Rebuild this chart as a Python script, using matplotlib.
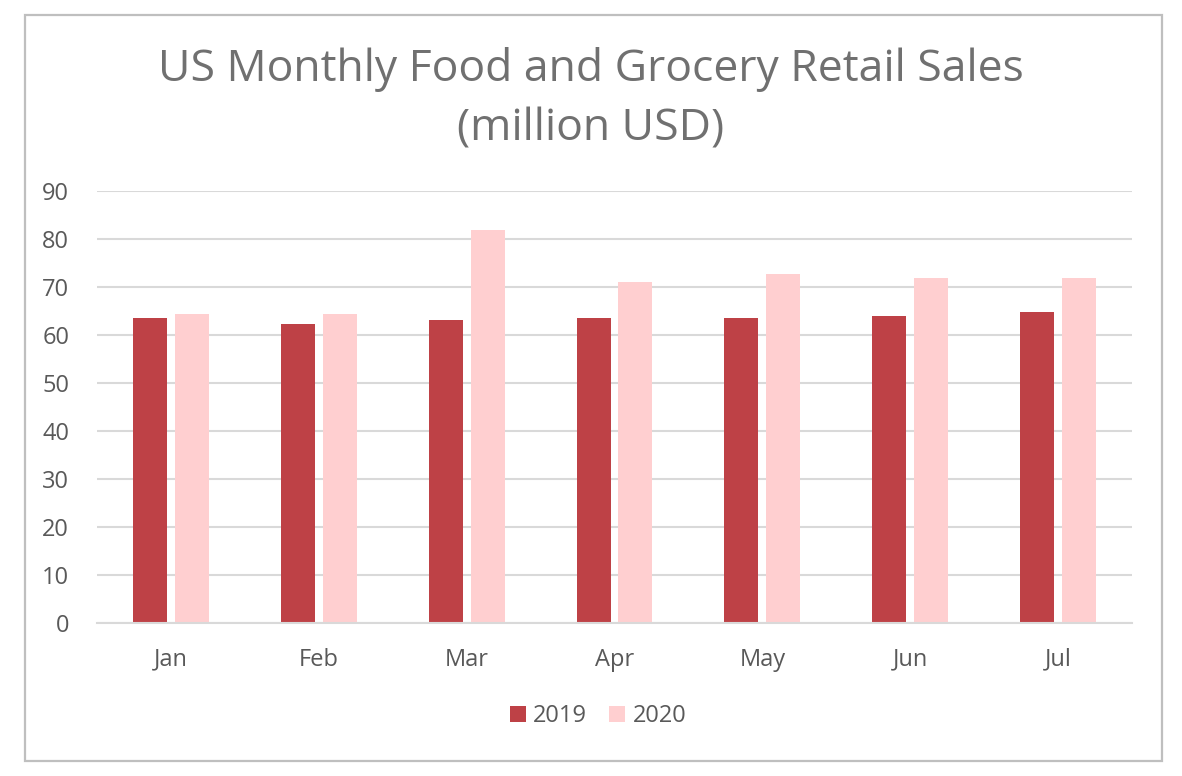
import numpy as np
import matplotlib
matplotlib.use("Agg")
import matplotlib.pyplot as plt
from matplotlib.patches import Rectangle

# valores (million USD)
meses = ["Jan", "Feb", "Mar", "Apr", "May", "Jun", "Jul"]
vendas_2019 = [63.5, 62.2, 63.0, 63.5, 63.5, 63.9, 64.7]
vendas_2020 = [64.3, 64.3, 81.8, 71.0, 72.6, 71.8, 71.8]
ticks_y = [0, 10, 20, 30, 40, 50, 60, 70, 80, 90]

cor_2019 = "#BE4146"
cor_2020 = "#FFCFD0"
cinza_texto = "#595959"
cinza_grid = "#D9D9D9"

plt.rcParams["font.family"] = ["Open Sans", "DejaVu Sans"]

fig = plt.figure(figsize=(11.82, 7.76), dpi=100)
ax = fig.add_axes([97 / 1182, 1 - 622.5 / 776, (1132 - 97) / 1182, (622.5 - 190.7) / 776])

x = np.arange(len(meses))
largura = 0.23
desloc = 0.142
ax.bar(x - desloc, vendas_2019, largura, color=cor_2019, label="2019", zorder=3)
ax.bar(x + desloc, vendas_2020, largura, color=cor_2020, label="2020", zorder=3)

ax.set_xlim(-0.5, len(meses) - 0.5)
ax.set_ylim(0, 90)
ax.set_yticks(ticks_y)
ax.set_xticks(x)
ax.set_xticklabels(meses)
ax.yaxis.grid(True, color=cinza_grid, linewidth=1.5, zorder=0)
ax.tick_params(axis="both", length=0, labelsize=17, labelcolor=cinza_texto)
ax.tick_params(axis="x", pad=18)
ax.tick_params(axis="y", pad=20)
for lado in ["top", "right", "left"]:
    ax.spines[lado].set_visible(False)
ax.spines["bottom"].set_color(cinza_grid)
ax.spines["bottom"].set_linewidth(1.5)
ax.spines["bottom"].set_zorder(4)

fig.text(0.5, 1 - 99 / 776, "US Monthly Food and Grocery Retail Sales\n(million USD)",
         ha="center", va="center", fontsize=32, color="#707070", linespacing=1.45)

fig.legend(loc="center", bbox_to_anchor=(598 / 1182, 1 - 716 / 776), ncol=2, frameon=False,
           fontsize=17, labelcolor=cinza_texto, handlelength=0.68, handleheight=0.68,
           handletextpad=0.3, columnspacing=0.95)

fig.patches.append(Rectangle((25 / 1182, 1 - 761 / 776), (1162 - 25) / 1182, (761 - 15) / 776,
                             transform=fig.transFigure, fill=False, edgecolor="#BFBFBF",
                             linewidth=1.6))

fig.savefig("out.png", dpi=100)
